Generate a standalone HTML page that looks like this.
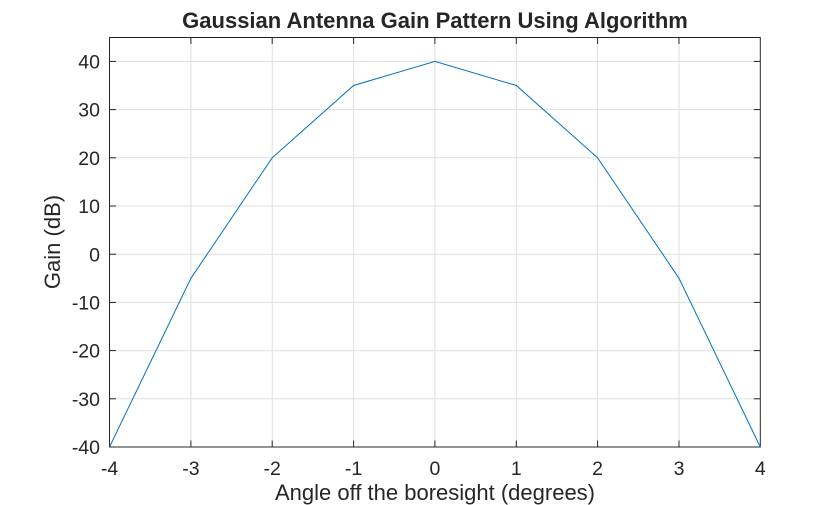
<!DOCTYPE html>
<html><head><style>body{margin:0;background:#fff}svg{display:block}</style></head><body>
<svg width="840" height="505" xmlns="http://www.w3.org/2000/svg" font-family="Liberation Sans, Arial, sans-serif">
<rect width="840" height="505" fill="#fff"/>
<g stroke="#dfdfdf" stroke-width="1">
<line x1="190.9" y1="37.5" x2="190.9" y2="447"/><line x1="272.2" y1="37.5" x2="272.2" y2="447"/><line x1="353.6" y1="37.5" x2="353.6" y2="447"/><line x1="434.9" y1="37.5" x2="434.9" y2="447"/><line x1="516.3" y1="37.5" x2="516.3" y2="447"/><line x1="597.6" y1="37.5" x2="597.6" y2="447"/><line x1="679" y1="37.5" x2="679" y2="447"/>
<line x1="109.5" y1="61.4" x2="760.3" y2="61.4"/><line x1="109.5" y1="109.6" x2="760.3" y2="109.6"/><line x1="109.5" y1="157.8" x2="760.3" y2="157.8"/><line x1="109.5" y1="206" x2="760.3" y2="206"/><line x1="109.5" y1="254.2" x2="760.3" y2="254.2"/><line x1="109.5" y1="302.4" x2="760.3" y2="302.4"/><line x1="109.5" y1="350.6" x2="760.3" y2="350.6"/><line x1="109.5" y1="398.8" x2="760.3" y2="398.8"/>
</g>
<rect x="109.5" y="37.5" width="650.8" height="409.5" fill="none" stroke="#262626" stroke-width="1"/>
<g stroke="#262626" stroke-width="1">
<line x1="190.9" y1="447" x2="190.9" y2="440.5"/><line x1="272.2" y1="447" x2="272.2" y2="440.5"/><line x1="353.6" y1="447" x2="353.6" y2="440.5"/><line x1="434.9" y1="447" x2="434.9" y2="440.5"/><line x1="516.3" y1="447" x2="516.3" y2="440.5"/><line x1="597.6" y1="447" x2="597.6" y2="440.5"/><line x1="679" y1="447" x2="679" y2="440.5"/>
<line x1="190.9" y1="37.5" x2="190.9" y2="44"/><line x1="272.2" y1="37.5" x2="272.2" y2="44"/><line x1="353.6" y1="37.5" x2="353.6" y2="44"/><line x1="434.9" y1="37.5" x2="434.9" y2="44"/><line x1="516.3" y1="37.5" x2="516.3" y2="44"/><line x1="597.6" y1="37.5" x2="597.6" y2="44"/><line x1="679" y1="37.5" x2="679" y2="44"/>
<line x1="109.5" y1="61.4" x2="116" y2="61.4"/><line x1="109.5" y1="109.6" x2="116" y2="109.6"/><line x1="109.5" y1="157.8" x2="116" y2="157.8"/><line x1="109.5" y1="206" x2="116" y2="206"/><line x1="109.5" y1="254.2" x2="116" y2="254.2"/><line x1="109.5" y1="302.4" x2="116" y2="302.4"/><line x1="109.5" y1="350.6" x2="116" y2="350.6"/><line x1="109.5" y1="398.8" x2="116" y2="398.8"/>
<line x1="760.3" y1="61.4" x2="753.8" y2="61.4"/><line x1="760.3" y1="109.6" x2="753.8" y2="109.6"/><line x1="760.3" y1="157.8" x2="753.8" y2="157.8"/><line x1="760.3" y1="206" x2="753.8" y2="206"/><line x1="760.3" y1="254.2" x2="753.8" y2="254.2"/><line x1="760.3" y1="302.4" x2="753.8" y2="302.4"/><line x1="760.3" y1="350.6" x2="753.8" y2="350.6"/><line x1="760.3" y1="398.8" x2="753.8" y2="398.8"/>
</g>
<polyline fill="none" stroke="#0072bd" stroke-width="1" points="109.5,447 190.9,278.3 272.2,157.8 353.6,85.5 434.9,61.4 516.3,85.5 597.6,157.8 679,278.3 760.3,447"/>
<g fill="#262626" font-size="19.5" text-anchor="middle">
<text x="109.5" y="475">-4</text><text x="190.9" y="475">-3</text><text x="272.2" y="475">-2</text><text x="353.6" y="475">-1</text><text x="434.9" y="475">0</text><text x="516.3" y="475">1</text><text x="597.6" y="475">2</text><text x="679" y="475">3</text><text x="760.3" y="475">4</text>
</g>
<g fill="#262626" font-size="19.5" text-anchor="end">
<text x="100" y="68.5">40</text><text x="100" y="116.7">30</text><text x="100" y="164.9">20</text><text x="100" y="213.1">10</text><text x="100" y="261.3">0</text><text x="100" y="309.5">-10</text><text x="100" y="357.7">-20</text><text x="100" y="405.9">-30</text><text x="100" y="454.1">-40</text>
</g>
<text x="435" y="500" fill="#262626" font-size="22" text-anchor="middle">Angle off the boresight (degrees)</text>
<text transform="translate(60,242) rotate(-90)" fill="#262626" font-size="22" text-anchor="middle">Gain (dB)</text>
<text x="435" y="28" fill="#262626" font-size="22" font-weight="bold" text-anchor="middle">Gaussian Antenna Gain Pattern Using Algorithm</text>
</svg>
</body></html>
